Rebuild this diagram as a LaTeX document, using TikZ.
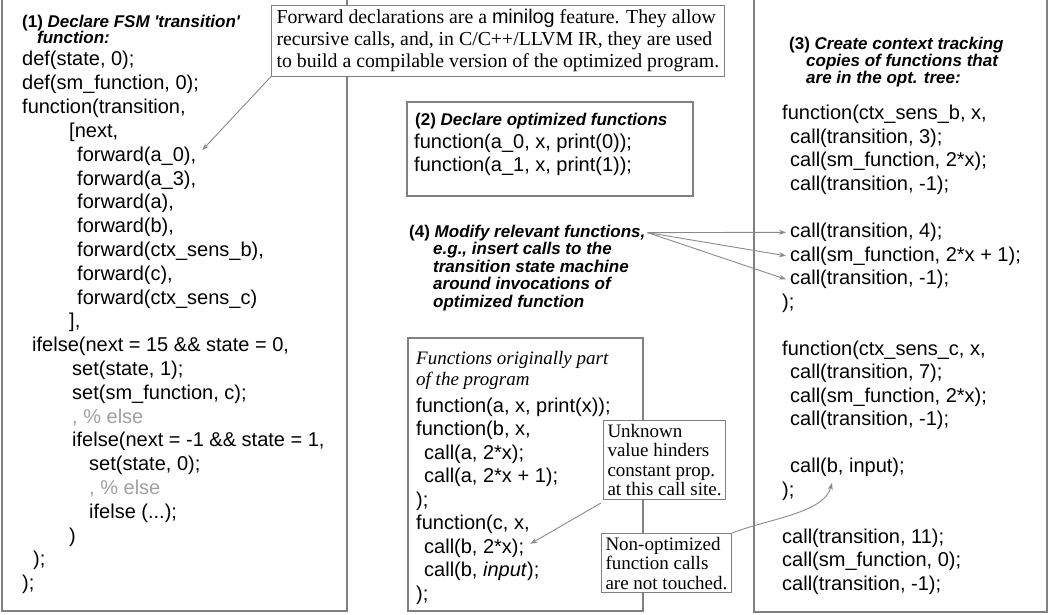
\documentclass[tikz,border=0pt]{standalone}
\usepackage{fontspec}
\setmainfont{Liberation Serif}
\setsansfont{Liberation Sans}
\usetikzlibrary{arrows.meta,calc}

\definecolor{panelgray}{HTML}{808080}
\definecolor{arrowgray}{HTML}{8A8A8A}
\definecolor{elsegray}{HTML}{A0A0A0}

\tikzset{
  panel/.style={draw=panelgray, line width=1.3pt},
  code/.style={anchor=base west, inner sep=0pt, font=\sffamily\fontsize{20}{24}\selectfont},
  greycode/.style={code, text=elsegray},
  head/.style={anchor=base west, inner sep=0pt, font=\sffamily\bfseries\itshape\fontsize{17}{17}\selectfont},
  remark/.style={anchor=base west, inner sep=0pt, font=\itshape\fontsize{19}{20}\selectfont},
  note/.style={draw=panelgray, line width=1pt, fill=white, align=left, anchor=north west,
    inner xsep=5pt, inner ysep=4pt, font=\fontsize{19.8}{22}\selectfont},
  pointer/.style={draw=arrowgray, line width=0.9pt, -{Stealth[length=7pt,width=5pt]}},
}
\newcommand{\stepno}[1]{\textup{(#1)}}

\begin{document}
\begin{tikzpicture}[x=1pt, y=-1pt]
\useasboundingbox (0,0) rectangle (1052,615);
\clip (0,0) rectangle (1052,615);
\fill[white] (0,0) rectangle (1052,615);

% ---------- panels ----------
\draw[panel] (2,-5) rectangle (347,611);
\draw[panel] (407,102) rectangle (693,196);
\draw[panel] (408,338) rectangle (643,611);
\draw[panel] (754,-5) rectangle (1047,612);

% ---------- (1) transition state machine ----------
\node[head] (H1a) at (22,28) {\stepno{1} Declare FSM {\textquotesingle}transition{\textquotesingle}};
\node[head] (H1b) at (37,44) {function:};
\node[code] (L0)  at (22,66)    {def(state, 0);};
\node[code] (L1)  at (22,89.8)  {def(sm\_function, 0);};
\node[code] (L2)  at (22,113.6) {function(transition,};
\node[code] (L3)  at (69,137.4) {[next,};
\node[code] (L4)  at (77,161.2) {forward(a\_0),};
\node[code] (L5)  at (77,185)   {forward(a\_3),};
\node[code] (L6)  at (77,208.8) {forward(a),};
\node[code] (L7)  at (77,232.6) {forward(b),};
\node[code] (L8)  at (77,256.4) {forward(ctx\_sens\_b),};
\node[code] (L9)  at (77,280.2) {forward(c),};
\node[code] (L10) at (77,304)   {forward(ctx\_sens\_c)};
\node[code] (L11) at (69,327.8) {],};
\node[code] (L12) at (32,351.6) {ifelse(next = 15 \&\& state = 0,};
\node[code] (L13) at (72,375.4) {set(state, 1);};
\node[code] (L14) at (72,399.2) {set(sm\_function, c);};
\node[greycode] (L15) at (72,423) {, \% else};
\node[code] (L16) at (72,446.8) {ifelse(next = -1 \&\& state = 1,};
\node[code] (L17) at (89,470.6) {set(state, 0);};
\node[greycode] (L18) at (89,494.4) {, \% else};
\node[code] (L19) at (89,518.2) {ifelse (...);};
\node[code] (L20) at (69,542)   {)};
\node[code] (L21) at (33,565.8) {);};
\node[code] (L22) at (22,589.6) {);};

% ---------- (2) optimized functions ----------
\node[head] (H2) at (415,126) {\stepno{2} Declare optimized functions};
\node[code] (D0) at (414,149) {function(a\_0, x, print(0));};
\node[code] (D1) at (414,171.5) {function(a\_1, x, print(1));};

% ---------- (4) modification note ----------
\node[head] (H4a) at (409,237) {\stepno{4} Modify relevant functions,};
\node[head] (H4b) at (433,254.5) {e.g., insert calls to the};
\node[head] (H4c) at (433,272) {transition state machine};
\node[head] (H4d) at (433,289.5) {around invocations of};
\node[head] (H4e) at (433,307) {optimized function};

% ---------- original functions ----------
\node[remark] (T0) at (416,364) {Functions originally part};
\node[remark] (T1) at (416,385) {of the program};
\node[code] (M0) at (416,412)   {function(a, x, print(x));};
\node[code] (M1) at (416,435.5) {function(b, x,};
\node[code] (M2) at (424,459)   {call(a, 2*x);};
\node[code] (M3) at (424,482.5) {call(a, 2*x + 1);};
\node[code] (M4) at (416,506)   {);};
\node[code] (M5) at (416,529.5) {function(c, x,};
\node[code] (M6) at (424,553)   {call(b, 2*x);};
\node[code] (M7) at (424,576.5) {call(b, \textit{input});};
\node[code] (M8) at (416,600)   {);};

% ---------- (3) context tracking copies ----------
\node[head] (H3a) at (789,50) {\stepno{3} Create context tracking};
\node[head] (H3b) at (806,67) {copies of functions that};
\node[head] (H3c) at (806,84) {are in the opt. tree:};
\node[code] (R0)  at (782,120)   {function(ctx\_sens\_b, x,};
\node[code] (R1)  at (790,143.5) {call(transition, 3);};
\node[code] (R2)  at (790,167)   {call(sm\_function, 2*x);};
\node[code] (R3)  at (790,190.5) {call(transition, -1);};
\node[code] (R5)  at (790,237.5) {call(transition, 4);};
\node[code] (R6)  at (790,261)   {call(sm\_function, 2*x + 1);};
\node[code] (R7)  at (790,284.5) {call(transition, -1);};
\node[code] (R8)  at (782,308)   {);};
\node[code] (R10) at (782,355)   {function(ctx\_sens\_c, x,};
\node[code] (R11) at (790,378.5) {call(transition, 7);};
\node[code] (R12) at (790,402)   {call(sm\_function, 2*x);};
\node[code] (R13) at (790,425.5) {call(transition, -1);};
\node[code] (R15) at (790,472.5) {call(b, input);};
\node[code] (R16) at (782,496)   {);};
\node[code] (R18) at (782,543)   {call(transition, 11);};
\node[code] (R19) at (782,566.5) {call(sm\_function, 0);};
\node[code] (R20) at (782,590)   {call(transition, -1);};

% ---------- explanatory notes ----------
\node[note] (Fwd) at (271,5) {Forward declarations are a {\sffamily minilog} feature. They allow\\
  recursive calls, and, in C/C++/LLVM IR, they are used\\
  to build a compilable version of the optimized program.};
\node[note, font=\fontsize{19}{19.5}\selectfont, inner xsep=4pt, inner ysep=3.5pt] (Unk) at (603,420)
  {Unknown\\ value hinders\\ constant prop.\\ at this call site.};
\node[note, font=\fontsize{19}{19.5}\selectfont, inner xsep=4pt, inner ysep=3.5pt] (Non) at (601,533)
  {Non-optimized\\ function calls\\ are not touched.};

% ---------- connectors ----------
\draw[pointer] (Fwd.south west) -- ($(L4.east)+(6,-6)$);
\draw[pointer] ([xshift=2pt]H4a.east) -- ([xshift=-4pt]R5.west);
\draw[pointer] ([xshift=2pt]H4a.east) -- ([xshift=-4pt]R6.west);
\draw[pointer] ([xshift=2pt]H4a.east) -- ([xshift=-4pt]R7.west);
\draw[pointer] ([shift={(-2,3)}]Unk.south west) -- ($(M6.east)+(6,-4)$);
\coordinate (bTip) at ($(R15.south west)+(42,6)$);
\draw[pointer] (Non.north east) .. controls ($(Non.north east)+(40,-15)$) and ($(bTip)+(-8,30)$) .. (bTip);
\end{tikzpicture}
\end{document}
